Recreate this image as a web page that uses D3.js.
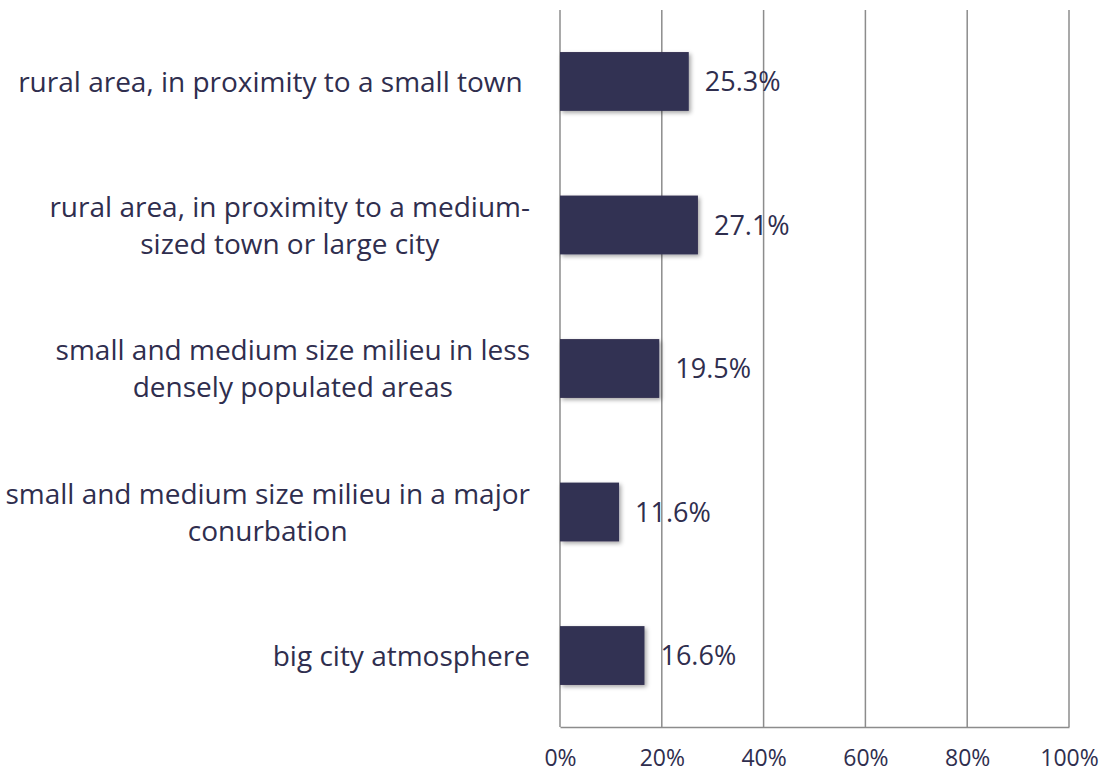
<!DOCTYPE html>
<html>
<head>
<meta charset="utf-8">
<script src="https://cdn.jsdelivr.net/npm/d3@7"></script>
<style>
  body { margin: 0; background: #fff; }
  text { font-family: "Open Sans", sans-serif; fill: #2f2e4e; white-space: pre; }
</style>
</head>
<body>
<script>
// categories, top to bottom (each entry is the lines of the label)
let categories = [
    ["rural area, in proximity to a small town "],
    ["rural area, in proximity to a medium-", "sized town or large city"],
    ["small and medium size milieu in less", "densely populated areas"],
    ["small and medium size milieu in a major", "conurbation"],
    ["big city atmosphere"]
]
let values = [25.3, 27.1, 19.5, 11.6, 16.6]
let ticks = [0, 20, 40, 60, 80, 100]

let width = 1099
let height = 773
let plotLeft = 560
let plotRight = 1069
let plotTop = 10
let plotBottom = 727

let svg = d3.select("body")
            .append("svg")
            .attr("width", width)
            .attr("height", height)

let defs = svg.append("defs")
let shadow = defs.append("filter")
                .attr("id", "shadow")
                .attr("x", "-10%").attr("y", "-20%")
                .attr("width", "130%").attr("height", "160%")
shadow.append("feDropShadow")
        .attr("dx", 2).attr("dy", 2)
        .attr("stdDeviation", 2)
        .attr("flood-color", "#000")
        .attr("flood-opacity", 0.35)

let xScale = d3.scaleLinear()
                .domain([0, 100])
                .range([plotLeft, plotRight])

let yScale = d3.scaleBand()
                .domain(d3.range(categories.length))
                .range([plotTop, plotBottom])
                .paddingInner(0.59)
                .paddingOuter(0.293)

// vertical grid lines
svg.append("g")
    .selectAll("line")
    .data(ticks)
    .enter()
    .append("line")
    .attr("x1", (d) => xScale(d))
    .attr("x2", (d) => xScale(d))
    .attr("y1", plotTop)
    .attr("y2", plotBottom)
    .attr("stroke", "#8c8c8c")
    .attr("stroke-width", 1.5)

// bottom axis
let xAxis = d3.axisBottom(xScale)
                .tickValues(ticks)
                .tickFormat((d) => d + "%")
                .tickSize(0)
                .tickPadding(23)

let gx = svg.append("g")
            .attr("transform", "translate(0," + plotBottom + ")")
            .call(xAxis)
gx.select(".domain").attr("stroke", "#8c8c8c").attr("stroke-width", 1.5)
gx.selectAll("text")
    .style("font-size", "23px")
    .style("font-family", "'Open Sans', sans-serif")
    .attr("fill", "#2f2e4e")

// bars
svg.selectAll(".bar")
    .data(values)
    .enter()
    .append("rect")
    .attr("class", "bar")
    .attr("x", xScale(0))
    .attr("y", (d, i) => yScale(i))
    .attr("width", (d) => xScale(d) - xScale(0))
    .attr("height", yScale.bandwidth())
    .attr("fill", "#333152")
    .attr("filter", "url(#shadow)")

// value labels
svg.selectAll(".value")
    .data(values)
    .enter()
    .append("text")
    .attr("class", "value")
    .attr("x", (d) => xScale(d) + 16)
    .attr("y", (d, i) => yScale(i) + yScale.bandwidth() / 2)
    .attr("dy", "0.36em")
    .style("font-size", "27px")
    .text((d) => d.toFixed(1) + "%")

// category labels, lines centred on each other, block right-aligned
categories.forEach((lines, i) => {
    let g = svg.append("g")
    let cy = yScale(i) + yScale.bandwidth() / 2
    let lineH = 37
    let texts = lines.map((line, k) => {
        return g.append("text")
                .attr("y", cy + (k - (lines.length - 1) / 2) * lineH)
                .attr("dy", "0.36em")
                .attr("text-anchor", "middle")
                .style("font-size", "28px")
                .text(line)
    })
    let maxW = d3.max(texts, (t) => t.node().getComputedTextLength())
    texts.forEach((t) => t.attr("x", 530 - maxW / 2))
})
</script>
</body>
</html>
